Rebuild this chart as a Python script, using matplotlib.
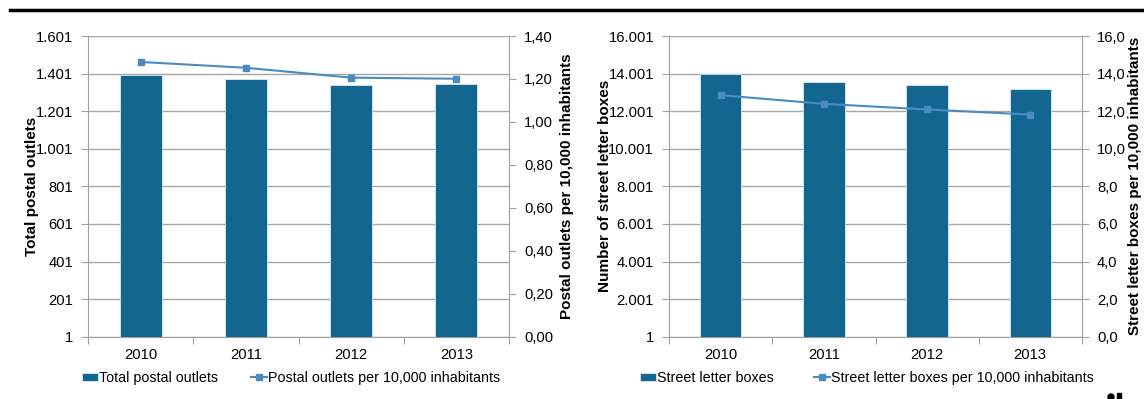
import matplotlib.pyplot as plt
import numpy as np
from matplotlib.ticker import FuncFormatter, FixedLocator
from matplotlib.lines import Line2D
from matplotlib.patches import Rectangle, Ellipse

plt.rcParams['font.family'] = ['Liberation Sans', 'DejaVu Sans']
plt.rcParams['font.size'] = 10.6

years = ["2010", "2011", "2012", "2013"]

# left chart
postal_outlets = [1394, 1373, 1341, 1344]
outlets_per_10k = [1.279, 1.252, 1.206, 1.201]

# right chart
letter_boxes = [14000, 13557, 13400, 13188]
boxes_per_10k = [12.85, 12.39, 12.09, 11.82]

bar_color = '#12668F'
line_color = '#4A8CC0'
grid_color = '#A6A6A6'
spine_color = '#A0A0A0'

W, H = 1144, 399
fig = plt.figure(figsize=(W / 100, H / 100), dpi=100)

# black rule at the top
fig.add_artist(Line2D([10 / W, 1], [1 - 10 / H, 1 - 10 / H], color='black', lw=2.5))
# cut-off logo marks in the bottom right corner
fig.add_artist(Ellipse((1111 / W, 2 / H), 6 / W, 6 / H, color='black'))
fig.add_artist(Rectangle((1117 / W, 0), 4 / W, 6 / H, color='black'))


def thousands(v, pos):
    return f"{int(round(v)):,}".replace(",", ".")


def comma_dec(nd):
    def f(v, pos):
        return f"{v:.{nd}f}".replace(".", ",")
    return f


def make_chart(left_px, right_px, bars, line, ymax, ystep, y2max, y2step, y2dec,
               ylabel, y2label, lab_x, lab2_x, bar_name, line_name, leg_x, colsp):
    x = np.arange(len(years))
    ax = fig.add_axes([left_px / W, 62.3 / H, (right_px - left_px) / W, 300.7 / H])
    ax.bar(x, bars, width=0.4, bottom=0, color=bar_color, edgecolor='#DCE8EF',
           linewidth=0.6, zorder=3, label=bar_name)
    ax.set_xlim(-0.5, len(years) - 0.5)
    ax.set_ylim(1, ymax)
    ax.set_yticks(np.arange(1, ymax + 1, ystep))
    ax.yaxis.set_major_formatter(FuncFormatter(thousands))
    ax.grid(axis='y', color=grid_color, lw=1, zorder=0)
    ax.xaxis.set_major_locator(FixedLocator(np.arange(-0.5, len(years), 1)))
    ax.xaxis.set_minor_locator(FixedLocator(x))
    ax.set_xticklabels([], minor=False)
    ax.set_xticklabels(years, minor=True)
    ax.tick_params(axis='x', which='major', length=5, color=spine_color)
    ax.tick_params(axis='x', which='minor', length=0, pad=8)
    ax.tick_params(axis='y', length=5, color=spine_color, pad=6)
    for s in ['top', 'right']:
        ax.spines[s].set_visible(False)
    for s in ['left', 'bottom']:
        ax.spines[s].set_color(spine_color)
    ax.set_ylabel(ylabel, fontweight='bold', fontsize=11)
    ax.yaxis.set_label_coords(lab_x, 0.5)

    ax2 = ax.twinx()
    ax2.plot(x, line, color=line_color, lw=1.5, marker='s', markersize=5,
             markerfacecolor=line_color, markeredgecolor=line_color, zorder=4,
             label=line_name)
    ax2.set_ylim(0, y2max)
    ax2.set_yticks(np.arange(0, y2max + 1e-9, y2step))
    ax2.yaxis.set_major_formatter(FuncFormatter(comma_dec(y2dec)))
    ax2.tick_params(axis='y', length=5, color=spine_color, pad=6)
    for s in ['top', 'left', 'bottom']:
        ax2.spines[s].set_visible(False)
    ax2.spines['right'].set_color(spine_color)
    ax2.set_ylabel(y2label, fontweight='bold', fontsize=11)
    ax2.yaxis.set_label_coords(lab2_x, 0.5)

    h1, l1 = ax.get_legend_handles_labels()
    h2, l2 = ax2.get_legend_handles_labels()
    fig.legend(h1 + h2, l1 + l2, loc='center left',
               bbox_to_anchor=(leg_x / W, 1 - 378 / H), ncol=2, frameon=False,
               handlelength=1.1, handletextpad=0.1, columnspacing=colsp,
               borderpad=0, borderaxespad=0, handleheight=0.5, fontsize=10.3)
    return ax, ax2


make_chart(88.3, 509, postal_outlets, outlets_per_10k, 1601, 200, 1.4, 0.2, 2,
           "Total postal outlets", "Postal outlets per 10,000 inhabitants",
           -0.118, 1.121, "Total postal outlets",
           "Postal outlets per 10,000 inhabitants", 82, 2.3)

make_chart(669.3, 1081.7, letter_boxes, boxes_per_10k, 16001, 2000, 16.0, 2.0, 1,
           "Number of street letter boxes", "Street letter boxes per 10,000 inhabitants",
           -0.139, 1.112, "Street letter boxes",
           "Street letter boxes per 10,000 inhabitants", 640, 2.8)

fig.savefig("out.png", dpi=100)
